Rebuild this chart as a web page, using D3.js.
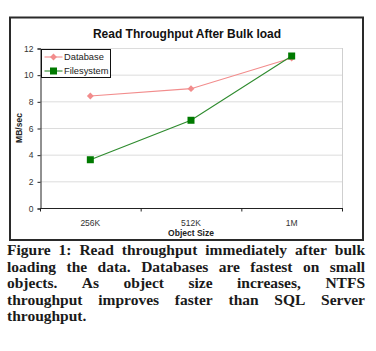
<!DOCTYPE html>
<html>
<head>
<meta charset="utf-8">
<script src="https://cdn.jsdelivr.net/npm/d3@7"></script>
<style>
  body { margin: 0; background: #fff; }
  svg { display: block; }
</style>
</head>
<body>
<div id="chart"></div>
<script>
// chart data
const sizes = ["256K", "512K", "1M"];
const database = [8.4, 8.95, 11.25];
const filesystem = [3.62, 6.58, 11.4];
const yTicks = [0, 2, 4, 6, 8, 10, 12];
const captionLines = [
  "Figure 1: Read throughput immediately after bulk",
  "loading the data. Databases are fastest on small",
  "objects. As object size increases, NTFS",
  "throughput improves faster than SQL Server",
  "throughput."
];

const W = 376, H = 351;
const plot = { left: 40, right: 342, top: 48, bottom: 208 };

const svg = d3.select("#chart")
  .append("svg")
  .attr("width", W)
  .attr("height", H);

// outer chart frame
svg.append("rect")
  .attr("x", 10).attr("y", 17.5)
  .attr("width", 353).attr("height", 222.5)
  .attr("fill", "#fff")
  .attr("stroke", "#2a2a2a")
  .attr("stroke-width", 2);

svg.append("text")
  .attr("x", 187).attr("y", 38)
  .attr("text-anchor", "middle")
  .attr("font-family", "Liberation Sans, Arial, sans-serif")
  .attr("font-weight", "bold")
  .attr("font-size", 12)
  .attr("fill", "#111")
  .text("Read Throughput After Bulk load");

const x = d3.scaleBand().domain(sizes).range([plot.left, plot.right]).padding(0);
const y = d3.scaleLinear().domain([0, 12]).range([plot.bottom, plot.top]);

// gridlines
svg.append("g")
  .selectAll("line")
  .data(yTicks.filter(d => d > 0))
  .enter().append("line")
  .attr("x1", plot.left).attr("x2", plot.right)
  .attr("y1", d => y(d) + 0.5).attr("y2", d => y(d) + 0.5)
  .attr("stroke", "#dcdcdc");

svg.append("line")
  .attr("x1", plot.right + 0.5).attr("x2", plot.right + 0.5)
  .attr("y1", plot.top).attr("y2", plot.bottom)
  .attr("stroke", "#cfcfcf");

// y axis
const yAxis = svg.append("g")
  .attr("transform", `translate(${plot.left + 0.5},0.5)`)
  .call(d3.axisLeft(y).tickValues(yTicks).tickSize(3).tickPadding(4));
yAxis.select(".domain").attr("stroke", "#222");
yAxis.selectAll(".tick line").attr("stroke", "#222");
yAxis.selectAll("text")
  .attr("font-family", "Liberation Sans, Arial, sans-serif")
  .attr("font-size", 8.5)
  .attr("fill", "#333");

// x axis: ticks at band edges, labels at band centres
const xAxis = svg.append("g").attr("transform", `translate(0,${plot.bottom + 0.5})`);
xAxis.append("line")
  .attr("x1", plot.left).attr("x2", plot.right + 1)
  .attr("stroke", "#222");
const edges = sizes.map(d => x(d)).concat([x(sizes[sizes.length - 1]) + x.bandwidth()]);
xAxis.selectAll(".edge")
  .data(edges)
  .enter().append("line")
  .attr("x1", d => d + 0.5).attr("x2", d => d + 0.5)
  .attr("y1", 0).attr("y2", 3)
  .attr("stroke", "#222");
xAxis.selectAll(".lbl")
  .data(sizes)
  .enter().append("text")
  .attr("x", d => x(d) + x.bandwidth() / 2)
  .attr("y", 17)
  .attr("text-anchor", "middle")
  .attr("font-family", "Liberation Sans, Arial, sans-serif")
  .attr("font-size", 8.5)
  .attr("fill", "#333")
  .text(d => d);

svg.append("text")
  .attr("x", 191).attr("y", 236)
  .attr("text-anchor", "middle")
  .attr("font-family", "Liberation Sans, Arial, sans-serif")
  .attr("font-weight", "bold")
  .attr("font-size", 8.5)
  .attr("fill", "#222")
  .text("Object Size");

svg.append("text")
  .attr("transform", `translate(22,${(plot.top + plot.bottom) / 2}) rotate(-90)`)
  .attr("text-anchor", "middle")
  .attr("font-family", "Liberation Sans, Arial, sans-serif")
  .attr("font-weight", "bold")
  .attr("font-size", 8.5)
  .attr("fill", "#222")
  .text("MB/sec");

// series
const series = [
  { name: "Database", values: database, color: "#f28c8c", marker: "diamond" },
  { name: "Filesystem", values: filesystem, color: "#2e8b2e", fill: "#007a00", marker: "square" }
];
const line = d3.line()
  .x((d, i) => x(sizes[i]) + x.bandwidth() / 2)
  .y(d => y(d));

function drawMarker(g, kind, cx, cy, s) {
  if (kind === "diamond") {
    g.append("path")
      .attr("d", d3.symbol().type(d3.symbolDiamond2).size(30)())
      .attr("transform", `translate(${cx},${cy})`)
      .attr("fill", s.color);
  } else {
    g.append("rect")
      .attr("x", cx - 3.5).attr("y", cy - 3.5)
      .attr("width", 7).attr("height", 7)
      .attr("fill", s.fill);
  }
}

series.forEach(s => {
  svg.append("path")
    .datum(s.values)
    .attr("d", line)
    .attr("fill", "none")
    .attr("stroke", s.color)
    .attr("stroke-width", 1.1);
  const g = svg.append("g");
  s.values.forEach((v, i) => drawMarker(g, s.marker, x(sizes[i]) + x.bandwidth() / 2, y(v), s));
});

// legend
const lg = svg.append("g").attr("transform", "translate(41.5,49.5)");
lg.append("rect")
  .attr("width", 69).attr("height", 28)
  .attr("fill", "#fff")
  .attr("stroke", "#111");
series.forEach((s, i) => {
  const cy = 7.5 + i * 14;
  lg.append("line")
    .attr("x1", 3).attr("x2", 21)
    .attr("y1", cy).attr("y2", cy)
    .attr("stroke", s.color).attr("stroke-width", 1.1);
  drawMarker(lg, s.marker, 12, cy, s);
  lg.append("text")
    .attr("x", 22.5).attr("y", cy + 3.3)
    .attr("font-family", "Liberation Sans, Arial, sans-serif")
    .attr("font-size", 9.3)
    .attr("fill", "#222")
    .text(s.name);
});

// caption, justified word by word
const capLeft = 7, capRight = 365, capTop = 255, lineGap = 16.6;
captionLines.forEach((ln, li) => {
  const words = ln.split(" ");
  const ty = capTop + li * lineGap;
  const nodes = words.map(w => svg.append("text")
    .attr("y", ty)
    .attr("font-family", "Liberation Serif, Times New Roman, serif")
    .attr("font-weight", "bold")
    .attr("font-size", 15.5)
    .attr("fill", "#1a1a1a")
    .text(w));
  const widths = nodes.map(n => n.node().getComputedTextLength());
  const total = d3.sum(widths);
  const last = li === captionLines.length - 1;
  const gap = (last || words.length < 2) ? 4 : (capRight - capLeft - total) / (words.length - 1);
  let cx = capLeft;
  nodes.forEach((n, i) => {
    n.attr("x", cx);
    cx += widths[i] + gap;
  });
});
</script>
</body>
</html>
